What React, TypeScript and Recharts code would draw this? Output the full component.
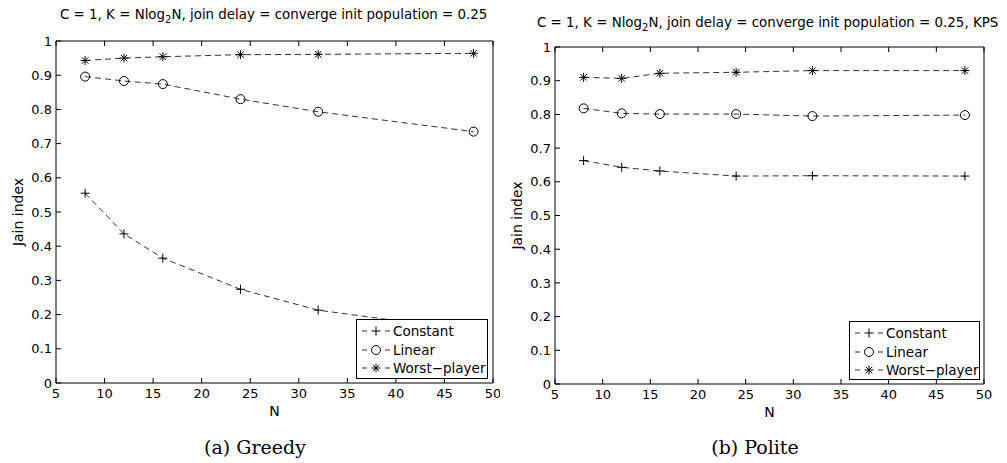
import React from "react";
import { LineChart, Line, XAxis, YAxis, Legend } from "recharts";

const N = [8, 12, 16, 24, 32, 48];

const greedyConstant = [0.555, 0.436, 0.365, 0.274, 0.213, 0.152];
const greedyLinear = [0.896, 0.883, 0.874, 0.83, 0.793, 0.735];
const greedyWorst = [0.943, 0.95, 0.954, 0.96, 0.961, 0.964];

const politeConstant = [0.663, 0.643, 0.632, 0.617, 0.618, 0.617];
const politeLinear = [0.818, 0.803, 0.801, 0.801, 0.795, 0.798];
const politeWorst = [0.91, 0.907, 0.922, 0.925, 0.93, 0.93];

const xTicks = [5, 10, 15, 20, 25, 30, 35, 40, 45, 50];
const yTicks = [0, 0.1, 0.2, 0.3, 0.4, 0.5, 0.6, 0.7, 0.8, 0.9, 1];

const SERIES = [
    { key: "constant", name: "Constant", mark: "plus" },
    { key: "linear", name: "Linear", mark: "circle" },
    { key: "worst", name: "Worst\u2212player", mark: "star" },
];

const sans = "'DejaVu Sans', Verdana, sans-serif";
const tick = { fill: "#000", fontSize: 13, fontFamily: sans };
const LINE = "#333";
const R = 4.5;

function buildRows(c: number[], l: number[], w: number[]) {
    return N.map((n, i) => ({ n, constant: c[i], linear: l[i], worst: w[i] }));
}

function Marker({ kind, cx, cy }: { kind: string; cx?: number; cy?: number }) {
    if (cx == null || cy == null) return null;
    if (kind === "circle") return <circle cx={cx} cy={cy} r={R} stroke="#000" fill="none" />;
    const plus = `M${cx - R} ${cy}H${cx + R}M${cx} ${cy - R}V${cy + R}`;
    if (kind === "plus") return <path d={plus} stroke="#000" fill="none" />;
    const d = R * 0.72;
    return (
        <path
            d={`${plus}M${cx - d} ${cy - d}L${cx + d} ${cy + d}M${cx - d} ${cy + d}L${cx + d} ${cy - d}`}
            stroke="#000" fill="none"
        />
    );
}

function LegendBox({ payload }: { payload?: any[] }) {
    return (
        <div style={{
            border: "1px solid #000", background: "#fff", boxSizing: "border-box",
            width: "100%", height: "100%", padding: "2px 0 0 0", fontFamily: sans, fontSize: 13.5,
        }}>
            {(payload ?? []).map((p: any) => {
                const s = SERIES.find(x => x.key === p.dataKey)!;
                return (
                    <div key={s.key} style={{ display: "flex", alignItems: "center", height: 18.5 }}>
                        <svg width={36} height={18} style={{ flex: "none" }}>
                            <line x1={5} y1={9} x2={10} y2={9} stroke={LINE} />
                            <line x1={28} y1={9} x2={33} y2={9} stroke={LINE} />
                            <Marker kind={s.mark} cx={19} cy={9} />
                        </svg>
                        <span style={{ lineHeight: "18px", whiteSpace: "nowrap" }}>{s.name}</span>
                    </div>
                );
            })}
        </div>
    );
}

function Panel({ rows, width, margin, legendAt }: {
    rows: any[]; width: number;
    margin: { top: number; right: number; bottom: number; left: number };
    legendAt: { left: number; top: number; width: number; height: number };
}) {
    return (
        <LineChart width={width} height={463} data={rows} margin={margin}>
            <XAxis
                dataKey="n" type="number" domain={[5, 50]} ticks={xTicks} height={30}
                stroke="#000" tick={tick} tickSize={-5} tickMargin={11}
                label={{ value: "N", position: "insideBottom", offset: -3, fill: "#000", fontSize: 14, fontFamily: sans }}
            />
            <XAxis
                xAxisId="top" orientation="top" dataKey="n" type="number" domain={[5, 50]}
                ticks={xTicks} height={1} stroke="#000" tickSize={-5} tickFormatter={() => ""}
            />
            <YAxis
                type="number" domain={[0, 1]} ticks={yTicks} width={40}
                stroke="#000" tick={tick} tickSize={-5} tickMargin={9}
                label={{
                    value: "Jain index", angle: -90, position: "insideLeft", offset: 2,
                    fill: "#000", fontSize: 14, fontFamily: sans, style: { textAnchor: "middle" },
                }}
            />
            <YAxis
                yAxisId="right" orientation="right" type="number" domain={[0, 1]} ticks={yTicks}
                width={1} stroke="#000" tickSize={-5} tickFormatter={() => ""}
            />
            {SERIES.map(s => (
                <Line
                    key={s.key} dataKey={s.key} name={s.name} type="linear"
                    stroke={LINE} strokeWidth={1} strokeDasharray="6 4"
                    dot={(p: any) => <Marker key={`${s.key}-${p.index}`} kind={s.mark} cx={p.cx} cy={p.cy} />}
                    activeDot={false} isAnimationActive={false}
                />
            ))}
            <Legend
                layout="vertical" align="center" verticalAlign="middle"
                wrapperStyle={{ ...legendAt }}
                content={(props: any) => <LegendBox payload={props.payload} />}
            />
        </LineChart>
    );
}

function Title({ left, top, tail }: { left: number; top: number; tail: string }) {
    return (
        <div style={{
            position: "absolute", left, top,
            fontFamily: sans, fontSize: 13.4, lineHeight: "16px", whiteSpace: "nowrap",
        }}>
            C = 1, K = Nlog<sub style={{ fontSize: 10, verticalAlign: "-4px", lineHeight: 0 }}>2</sub>N,
            join delay = converge init population = 0.25{tail}
        </div>
    );
}

function Caption({ center, text }: { center: number; text: string }) {
    return (
        <div style={{
            position: "absolute", left: center - 150, width: 300, top: 436, textAlign: "center",
            fontFamily: "'DejaVu Serif', serif", fontSize: 19, lineHeight: "22px",
        }}>
            {text}
        </div>
    );
}

export default function App() {
    const greedy = buildRows(greedyConstant, greedyLinear, greedyWorst);
    const polite = buildRows(politeConstant, politeLinear, politeWorst);
    return (
        <div style={{ position: "absolute", left: 0, top: 0, width: 1007, height: 463, background: "#fff", overflow: "hidden" }}>
            <div style={{ position: "absolute", left: 0, top: 0 }}>
                <Panel
                    rows={greedy} width={500}
                    margin={{ top: 40, right: 6, bottom: 50, left: 16 }}
                    legendAt={{ left: 356, top: 319, width: 132, height: 60 }}
                />
            </div>
            <div style={{ position: "absolute", left: 500, top: 0 }}>
                <Panel
                    rows={polite} width={507}
                    margin={{ top: 46, right: 22, bottom: 49, left: 15 }}
                    legendAt={{ left: 349, top: 321, width: 131, height: 59 }}
                />
            </div>
            <Title left={60} top={7} tail="" />
            <Title left={537} top={15} tail=", KPS" />
            <Caption center={255} text="(a) Greedy" />
            <Caption center={755} text="(b) Polite" />
        </div>
    );
}
